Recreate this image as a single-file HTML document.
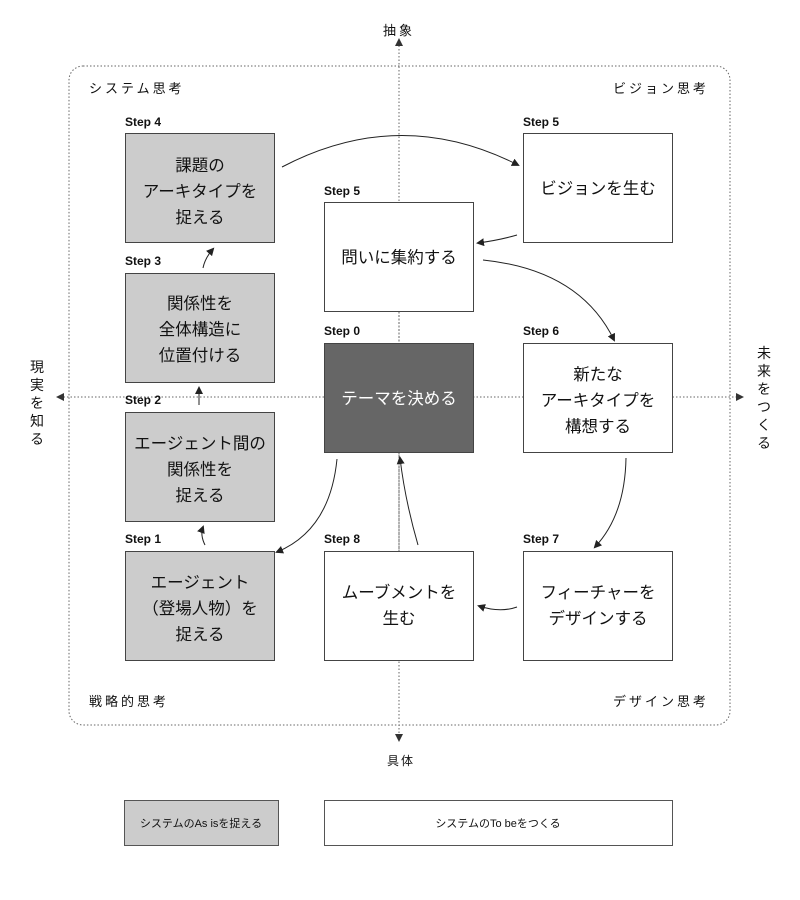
<!DOCTYPE html>
<html><head><meta charset="utf-8"><style>
html,body{margin:0;padding:0;background:#fff;}
svg{display:block;}
text{font-family:"Liberation Sans","Noto Sans CJK JP",sans-serif;fill:#111;}
.st{font-size:12px;font-weight:bold;}
.bx{font-size:16.5px;text-anchor:middle;}
.lb{font-size:13px;letter-spacing:3px;}
</style></head><body>
<svg width="800" height="900" viewBox="0 0 800 900" xmlns="http://www.w3.org/2000/svg">
<defs>
<marker id="a" markerWidth="8" markerHeight="8" refX="6" refY="4" orient="auto" markerUnits="userSpaceOnUse">
<path d="M0,0 L8,4 L0,8 z" fill="#222"/></marker>
<marker id="t" markerWidth="8" markerHeight="8" refX="4" refY="4" orient="auto" markerUnits="userSpaceOnUse">
<path d="M0,0 L8,4 L0,8 z" fill="#333"/></marker>
</defs>
<rect x="69" y="66" width="661" height="659" rx="14" fill="none" stroke="#666" stroke-width="1" stroke-dasharray="1.5 2"/>
<line x1="399" y1="42" x2="399" y2="738" stroke="#666" stroke-dasharray="1.5 2" marker-end="url(#t)"/>
<line x1="399" y1="742" x2="399" y2="42" stroke="none" marker-end="url(#t)"/>
<line x1="60" y1="397" x2="740" y2="397" stroke="#666" stroke-dasharray="1.5 2" marker-end="url(#t)"/>
<line x1="740" y1="397" x2="60" y2="397" stroke="none" marker-end="url(#t)"/>
<text x="399" y="35" class="lb" text-anchor="middle">抽象</text>
<text x="401" y="765" font-size="12" text-anchor="middle" letter-spacing="2">具体</text>
<g font-size="14">
<text x="30" y="372">現</text><text x="30" y="390">実</text><text x="30" y="408">を</text><text x="30" y="426">知</text><text x="30" y="444">る</text>
<text x="757" y="358">未</text><text x="757" y="376">来</text><text x="757" y="394">を</text><text x="757" y="412">つ</text><text x="757" y="430">く</text><text x="757" y="448">る</text>
</g>
<text x="89" y="93" class="lb">システム思考</text>
<text x="613" y="93" class="lb">ビジョン思考</text>
<text x="89" y="706" class="lb">戦略的思考</text>
<text x="613" y="706" class="lb">デザイン思考</text>

<g stroke="#444" stroke-width="1">
<rect x="125.5" y="133.5" width="149" height="109" fill="#cccccc"/>
<rect x="125.5" y="273.5" width="149" height="109" fill="#cccccc"/>
<rect x="125.5" y="412.5" width="149" height="109" fill="#cccccc"/>
<rect x="125.5" y="551.5" width="149" height="109" fill="#cccccc"/>
<rect x="324.5" y="202.5" width="149" height="109" fill="#fff"/>
<rect x="324.5" y="343.5" width="149" height="109" fill="#666"/>
<rect x="324.5" y="551.5" width="149" height="109" fill="#fff"/>
<rect x="523.5" y="133.5" width="149" height="109" fill="#fff"/>
<rect x="523.5" y="343.5" width="149" height="109" fill="#fff"/>
<rect x="523.5" y="551.5" width="149" height="109" fill="#fff"/>
</g>
<line x1="399" y1="312" x2="399" y2="343" stroke="#666" stroke-dasharray="1.5 2"/>
<line x1="399" y1="453" x2="399" y2="551" stroke="#666" stroke-dasharray="1.5 2"/>

<text x="125" y="126" class="st">Step 4</text>
<text x="125" y="265" class="st">Step 3</text>
<text x="125" y="404" class="st">Step 2</text>
<text x="125" y="543" class="st">Step 1</text>
<text x="324" y="195" class="st">Step 5</text>
<text x="324" y="335" class="st">Step 0</text>
<text x="324" y="543" class="st">Step 8</text>
<text x="523" y="126" class="st">Step 5</text>
<text x="523" y="335" class="st">Step 6</text>
<text x="523" y="543" class="st">Step 7</text>

<text class="bx" x="200" y="171">課題の</text>
<text class="bx" x="200" y="197">アーキタイプを</text>
<text class="bx" x="200" y="223">捉える</text>
<text class="bx" x="200" y="309">関係性を</text>
<text class="bx" x="200" y="335">全体構造に</text>
<text class="bx" x="200" y="361">位置付ける</text>
<text class="bx" x="200" y="449">エージェント間の</text>
<text class="bx" x="200" y="475">関係性を</text>
<text class="bx" x="200" y="501">捉える</text>
<text class="bx" x="200" y="588">エージェント</text>
<text class="bx" x="200" y="614">（登場人物）を</text>
<text class="bx" x="200" y="640">捉える</text>
<text class="bx" x="399" y="263">問いに集約する</text>
<text class="bx" x="399" y="404" style="fill:#fff">テーマを決める</text>
<text class="bx" x="399" y="598">ムーブメントを</text>
<text class="bx" x="399" y="624">生む</text>
<text class="bx" x="598" y="194">ビジョンを生む</text>
<text class="bx" x="598" y="380">新たな</text>
<text class="bx" x="598" y="406">アーキタイプを</text>
<text class="bx" x="598" y="432">構想する</text>
<text class="bx" x="598" y="598">フィーチャーを</text>
<text class="bx" x="598" y="624">デザインする</text>

<g fill="none" stroke="#222" stroke-width="1">
<path d="M282,167 Q400,105 518,165" marker-end="url(#a)"/>
<path d="M517,235 Q500,240 478,243" marker-end="url(#a)"/>
<path d="M483,260 Q580,270 614,340" marker-end="url(#a)"/>
<path d="M626,458 Q625,515 595,547" marker-end="url(#a)"/>
<path d="M517,607 Q500,613 479,606" marker-end="url(#a)"/>
<path d="M418,545 Q405,500 400,458" marker-end="url(#a)"/>
<path d="M337,459 Q330,530 277,552" marker-end="url(#a)"/>
<path d="M205,545 Q200,535 203,527" marker-end="url(#a)"/>
<path d="M199,405 L199,388" marker-end="url(#a)"/>
<path d="M203,268 Q205,258 213,249" marker-end="url(#a)"/>
</g>

<rect x="124.5" y="800.5" width="154" height="45" fill="#cccccc" stroke="#555"/>
<text x="201" y="827" font-size="11" text-anchor="middle">システムのAs isを捉える</text>
<rect x="324.5" y="800.5" width="348" height="45" fill="#fff" stroke="#555"/>
<text x="498" y="827" font-size="11" text-anchor="middle">システムのTo beをつくる</text>
</svg>
</body></html>
